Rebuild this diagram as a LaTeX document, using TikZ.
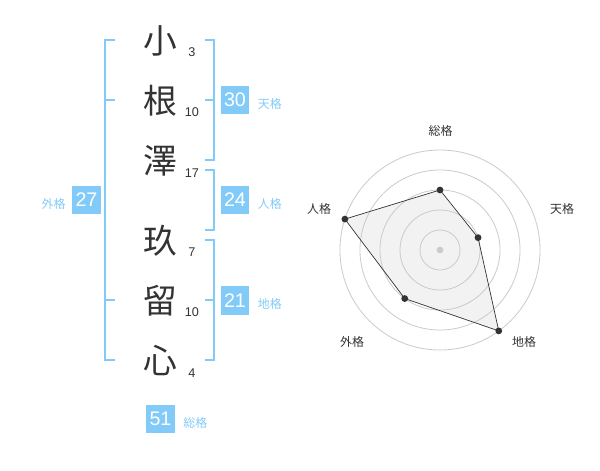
\documentclass[tikz,border=0pt]{standalone}
\usepackage{fontspec}
\setmainfont{Liberation Sans}
\newfontfamily\cjk{Noto Sans CJK JP}
\usetikzlibrary{positioning}
\definecolor{kakublue}{HTML}{82CBF9}
\definecolor{inkgray}{HTML}{333333}
\definecolor{ringgray}{HTML}{CCCCCC}
\definecolor{polyfill}{HTML}{F2F2F2}

\begin{document}
\begin{tikzpicture}[x=0.025cm,y=-0.025cm]
\tikzset{kanji/.style={font=\cjk\fontsize{24pt}{24pt}\selectfont,text=inkgray,inner sep=0pt},
strokes/.style={font=\fontsize{9pt}{9pt}\selectfont,text=inkgray,inner sep=0pt},
kakubox/.style={fill=kakublue,text=white,minimum size=0.72cm,inner sep=0pt,font=\fontsize{14pt}{14pt}\selectfont},
kakulabel/.style={text=kakublue,font=\cjk\fontsize{8.5pt}{8.5pt}\selectfont,inner sep=0pt},
bracket/.style={draw=kakublue,line width=1.4pt},
axislabel/.style={text=inkgray,font=\cjk\fontsize{8.5pt}{8.5pt}\selectfont,inner sep=0pt},
ring/.style={draw=ringgray,line width=0.6pt}}
\useasboundingbox (0,0) rectangle (600,470);
\node[kanji](k1) at (160,41){小};
\node[kanji](k2) at (160,101){根};
\node[kanji](k3) at (160,161){澤};
\node[kanji](k4) at (160,241){玖};
\node[kanji](k5) at (160,301){留};
\node[kanji](k6) at (160,361){心};
\node[strokes](n1) at (192,52){3};
\node[strokes](n2) at (192,112){10};
\node[strokes](n3) at (192,173){17};
\node[strokes](n4) at (192,252){7};
\node[strokes](n5) at (192,312){10};
\node[strokes](n6) at (192,373){4};
% brackets
\draw[bracket](115,40) -- (105,40) -- (105,360) -- (115,360);
\draw[bracket](105,100) -- (115,100);
\draw[bracket](105,300) -- (115,300);
\draw[bracket](205,40) -- (214,40) -- (214,160) -- (205,160);
\draw[bracket](214,100) -- (205,100);
\draw[bracket](205,170) -- (214,170) -- (214,230) -- (205,230);
\draw[bracket](205,240) -- (214,240) -- (214,360) -- (205,360);
\draw[bracket](214,300) -- (205,300);
% boxes
\node[kakubox](gai) at (86.5,200){27};
\node[kakulabel](gail)[left=0.15cm of gai,yshift=-0.09cm]{外格};
\node[kakubox](ten) at (235,100){30};
\node[kakulabel](tenl)[right=0.2cm of ten,yshift=-0.09cm]{天格};
\node[kakubox](jin) at (235,200){24};
\node[kakulabel](jinl)[right=0.2cm of jin,yshift=-0.09cm]{人格};
\node[kakubox](chi) at (235,300.5){21};
\node[kakulabel](chil)[right=0.2cm of chi,yshift=-0.09cm]{地格};
\node[kakubox](sou) at (160.5,419){51};
\node[kakulabel](soul)[right=0.2cm of sou,yshift=-0.09cm]{総格};
% radar
\begin{scope}[shift={(440,250)},yscale=-1]
\coordinate (psou) at (90:60);
\coordinate (pten) at (18:40);
\coordinate (pchi) at (-54:100);
\coordinate (pgai) at (-126:60);
\coordinate (pjin) at (162:100);
\fill[polyfill](psou) -- (pten) -- (pchi) -- (pgai) -- (pjin) -- cycle;
\draw[ring](0,0) circle[radius=0.5cm];
\draw[ring](0,0) circle[radius=1cm];
\draw[ring](0,0) circle[radius=1.5cm];
\draw[ring](0,0) circle[radius=2cm];
\draw[ring](0,0) circle[radius=2.5cm];
\draw[inkgray,line width=0.5pt](psou) -- (pten) -- (pchi) -- (pgai) -- (pjin) -- cycle;
\fill[inkgray](psou) circle[radius=0.085cm];
\fill[inkgray](pten) circle[radius=0.085cm];
\fill[inkgray](pchi) circle[radius=0.085cm];
\fill[inkgray](pgai) circle[radius=0.085cm];
\fill[inkgray](pjin) circle[radius=0.085cm];
\fill[ringgray](0,0) circle[radius=0.085cm];
\end{scope}
\node[axislabel](asou) at (440.5,130.5){総格};
\node[axislabel](aten) at (562,209){天格};
\node[axislabel](ajin) at (319,209){人格};
\node[axislabel](agai) at (352,342){外格};
\node[axislabel](achi) at (524,342){地格};
\end{tikzpicture}
\end{document}
